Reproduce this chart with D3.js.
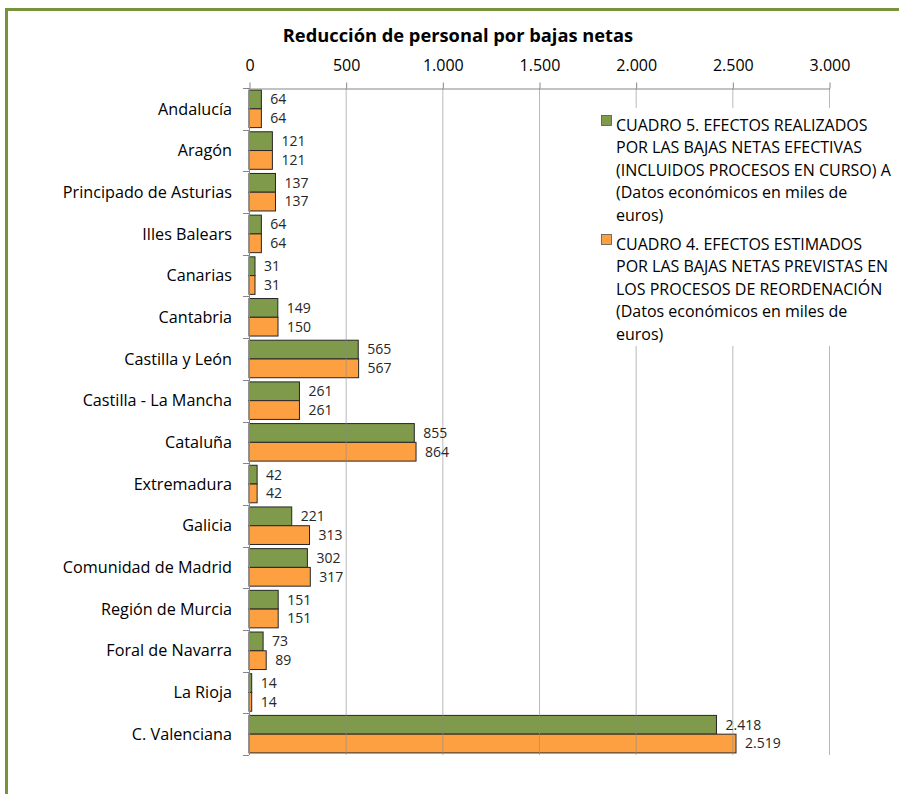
<!DOCTYPE html>
<html><head><meta charset="utf-8">
<script src="https://cdn.jsdelivr.net/npm/d3@7"></script>
<style>body{margin:0;background:#fff;} svg{display:block;}</style>
</head><body>
<svg id="c" width="899" height="794"></svg>
<script>
const categories = ["Andalucía","Aragón","Principado de Asturias","Illes Balears","Canarias","Cantabria","Castilla y León","Castilla - La Mancha","Cataluña","Extremadura","Galicia","Comunidad de Madrid","Región de Murcia","Foral de Navarra","La Rioja","C. Valenciana"];
const seriesRealizados = [64,121,137,64,31,149,565,261,855,42,221,302,151,73,14,2418];
const seriesEstimados  = [64,121,137,64,31,150,567,261,864,42,313,317,151,89,14,2519];
const xTicks = [0,500,1000,1500,2000,2500,3000];
const seriesNames = [
  ["CUADRO 5. EFECTOS REALIZADOS","POR LAS BAJAS NETAS EFECTIVAS","(INCLUIDOS PROCESOS EN CURSO) A","(Datos económicos en miles de","euros)"],
  ["CUADRO 4. EFECTOS ESTIMADOS","POR LAS BAJAS NETAS PREVISTAS EN","LOS PROCESOS DE REORDENACIÓN","(Datos económicos en miles de","euros)"]
];
const title = "Reducción de personal por bajas netas";

(function(){
const colors = ["#7F9A4A","#FDA042"];
const font = "'Open Sans', sans-serif";
const loc = d3.formatLocale({decimal:",", thousands:".", grouping:[3], currency:["","€"]});
const fmt = loc.format(",d");

const svg = d3.select("#c");
svg.append("rect").attr("x",6.5).attr("y",9.5).attr("width",920).attr("height",820)
  .attr("fill","none").attr("stroke","#77933C").attr("stroke-width",3);

const pLeft = 249, pRight = 829, pTop = 88, pBottom = 755;
const x = d3.scaleLinear().domain([0,3000]).range([pLeft,pRight]);
const y = d3.scaleBand().domain(categories).range([pTop,pBottom]).paddingInner(0.1).paddingOuter(0.05);
const step = y.step();
const sub = d3.scaleBand().domain([0,1]).range([0,y.bandwidth()]);

svg.append("text").attr("x",458).attr("y",42).attr("text-anchor","middle")
  .attr("font-family",font).attr("font-weight","bold").attr("font-size",18.3).attr("fill","#000").text(title);

const series = [seriesRealizados, seriesEstimados];
series.forEach((vals,si)=>{
  svg.append("g").selectAll("rect").data(categories).join("rect")
    .attr("x",x(0)).attr("y",d=>y(d)+sub(si)).attr("width",(d,i)=>x(vals[i])-x(0)).attr("height",sub.bandwidth())
    .attr("fill",colors[si]).attr("stroke","#262626").attr("stroke-width",1);
});

svg.append("g").selectAll("line").data(xTicks.slice(1)).join("line")
  .attr("x1",d=>x(d)+0.5).attr("x2",d=>x(d)+0.5).attr("y1",pTop).attr("y2",pBottom)
  .attr("stroke","#8c8c8c").attr("stroke-opacity",0.6).attr("stroke-width",1);

const xAxis = d3.axisTop(x).tickValues(xTicks).tickSize(6).tickSizeOuter(0).tickFormat(fmt);
const gx = svg.append("g").attr("transform",`translate(0.5,${pTop+0.5})`).call(xAxis);
gx.select(".domain").attr("stroke","#868686");
gx.selectAll(".tick line").attr("stroke","#868686");
gx.selectAll(".tick text").attr("font-family",font).attr("font-size",16).attr("fill","#000").attr("dy","0").attr("y",-18);

svg.append("line").attr("x1",pLeft+0.5).attr("x2",pLeft+0.5).attr("y1",pTop).attr("y2",pBottom).attr("stroke","#868686");
const bounds = d3.range(categories.length+1).map(i=>pTop+i*step);
svg.append("g").selectAll("line").data(bounds).join("line")
  .attr("x1",pLeft-6).attr("x2",pLeft).attr("y1",d=>Math.round(d)+0.5).attr("y2",d=>Math.round(d)+0.5).attr("stroke","#868686");

svg.append("g").selectAll("text").data(categories).join("text")
  .attr("x",pLeft-17).attr("y",d=>y(d)+y.bandwidth()/2).attr("dy","0.35em").attr("text-anchor","end")
  .attr("font-family",font).attr("font-size",16.2).attr("fill","#000").text(d=>d);

series.forEach((vals,si)=>{
  svg.append("g").selectAll("text").data(categories).join("text")
    .attr("x",(d,i)=>x(vals[i])+9).attr("y",d=>y(d)+sub(si)+sub.bandwidth()/2).attr("dy","0.35em")
    .attr("font-family",font).attr("font-size",14).attr("fill","#262626").text((d,i)=>fmt(vals[i]));
});

const lg = svg.append("g");
lg.append("rect").attr("x",597).attr("y",108).attr("width",300).attr("height",238).attr("fill","#fff");
const legendStarts = [125,244];
seriesNames.forEach((lines,si)=>{
  lg.append("rect").attr("x",601.5).attr("y",legendStarts[si]-9.5).attr("width",10).attr("height",10)
    .attr("fill",colors[si]).attr("stroke","#555").attr("stroke-width",0.8);
  lines.forEach((t,li)=>{
    lg.append("text").attr("x",616).attr("y",legendStarts[si]+li*22.5+5.5).attr("font-family",font)
      .attr("font-size",16).attr("fill","#000").text(t);
  });
});
})();
</script>
</body></html>
